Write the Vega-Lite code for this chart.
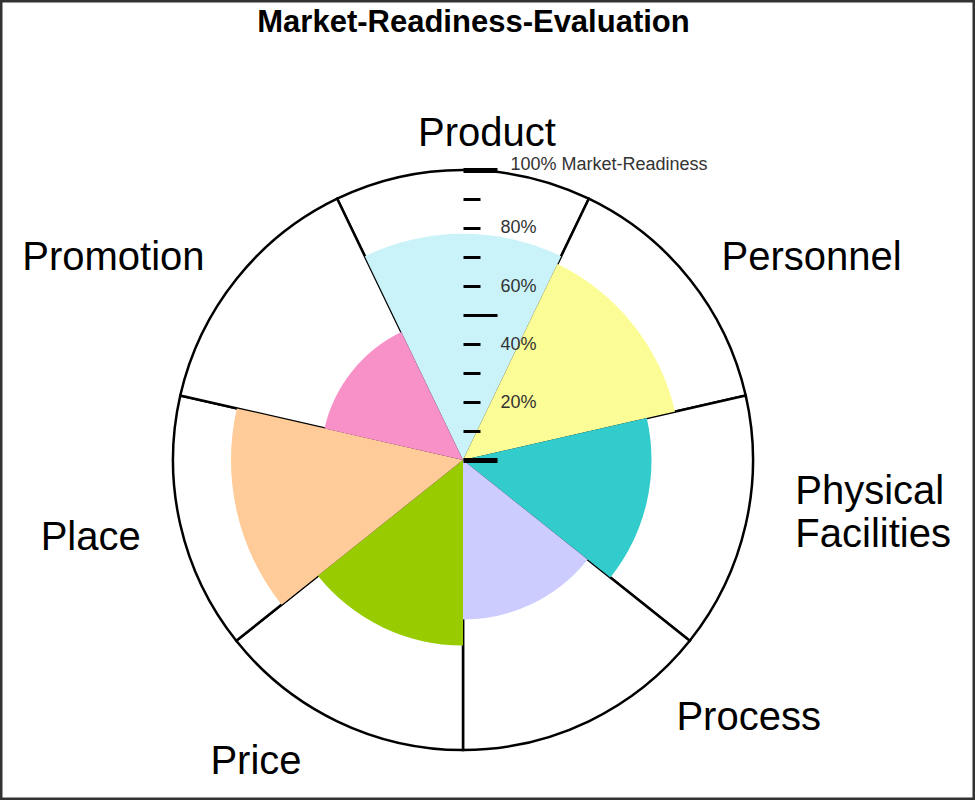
{
  "$schema": "https://vega.github.io/schema/vega-lite/v6.json",
  "width": 975,
  "height": 800,
  "autosize": "none",
  "padding": 0,
  "background": "white",
  "title": {
    "text": "Market-Readiness-Evaluation",
    "font": "Liberation Sans",
    "fontSize": 31,
    "fontWeight": "bold",
    "color": "black",
    "anchor": "middle",
    "frame": "group",
    "offset": -39,
    "dx": -14
  },
  "config": {"view": {"stroke": "#333333", "strokeWidth": 5}},
  "data": {
    "values": [
      {"category": "Product", "value": 78},
      {"category": "Personnel", "value": 75},
      {"category": "Physical Facilities", "value": 65},
      {"category": "Process", "value": 55},
      {"category": "Price", "value": 64},
      {"category": "Place", "value": 80},
      {"category": "Promotion", "value": 49}
    ]
  },
  "transform": [
    {"window": [{"op": "row_number", "as": "k"}]},
    {"calculate": "datum.k - 1", "as": "t0"},
    {"calculate": "datum.k - 0.5", "as": "tm"}
  ],
  "encoding": {
    "x": {"datum": 0, "type": "quantitative", "scale": {"domain": [-463, 512]}, "axis": null},
    "y": {
      "datum": 0,
      "type": "quantitative",
      "scale": {"domain": [-117.24, 158.62]},
      "axis": {
        "orient": "right",
        "offset": -512,
        "values": [0, 10, 20, 30, 40, 50, 60, 70, 80, 90, 100],
        "domain": false,
        "grid": false,
        "title": null,
        "zindex": 1,
        "tickColor": "black",
        "tickSize": {"condition": {"test": "datum.value % 50 === 0", "value": 34}, "value": 17},
        "tickWidth": {"condition": {"test": "datum.value === 0 || datum.value === 100", "value": 5}, "value": 3},
        "labelExpr": "datum.value === 100 ? '100% Market-Readiness' : (datum.value % 20 === 0 && datum.value > 0 ? datum.value + '%' : '')",
        "labelPadding": {"condition": {"test": "datum.value === 100", "value": 13}, "value": 20},
        "labelBaseline": {"condition": {"test": "datum.value === 100", "value": "alphabetic"}, "value": "middle"},
        "labelAlign": "left",
        "labelFont": "Liberation Sans",
        "labelFontSize": 18,
        "labelColor": "#333333",
        "labelLimit": 0,
        "labelOverlap": false,
        "labelBound": false,
        "labelFlush": false
      }
    }
  },
  "layer": [
    {
      "mark": {"type": "arc", "fill": "white", "stroke": "black", "strokeWidth": 2.5},
      "encoding": {
        "theta": {"field": "t0", "type": "quantitative", "stack": null, "scale": {"domain": [0, 7], "range": [-0.448799, 5.834386]}},
        "theta2": {"field": "k"},
        "radius": {"datum": 100, "type": "quantitative", "scale": {"type": "linear", "domain": [0, 100], "range": [0, 290], "zero": true}}
      }
    },
    {
      "mark": {"type": "arc"},
      "encoding": {
        "theta": {"field": "t0", "type": "quantitative", "stack": null},
        "theta2": {"field": "k"},
        "radius": {"field": "value", "type": "quantitative"},
        "color": {
          "field": "category",
          "type": "nominal",
          "scale": {
            "domain": ["Product", "Personnel", "Physical Facilities", "Process", "Price", "Place", "Promotion"],
            "range": ["#C9F3F9", "#FCFC96", "#33CCCC", "#CCCCFF", "#99CC00", "#FFCC99", "#F791C8"]
          },
          "legend": null
        }
      }
    },
    {
      "mark": {
        "type": "text",
        "font": "Liberation Sans",
        "fontSize": 40,
        "color": "black",
        "lineBreak": " ",
        "lineHeight": 43,
        "baseline": "middle",
        "align": {"expr": "datum.k === 1 ? 'center' : (datum.k <= 4 ? 'left' : 'right')"},
        "dx": {"expr": "datum.k === 1 ? 24 : datum.k === 3 ? 10 : datum.k === 4 ? 70 : datum.k === 5 ? -18 : 0"},
        "dy": {"expr": "datum.k === 1 ? 5 : datum.k === 3 ? -42 : datum.k === 4 ? -40 : 4"}
      },
      "encoding": {
        "theta": {"field": "tm", "type": "quantitative", "stack": null},
        "radius": {"datum": 114, "type": "quantitative"},
        "text": {"field": "category", "type": "nominal"}
      }
    }
  ]
}
